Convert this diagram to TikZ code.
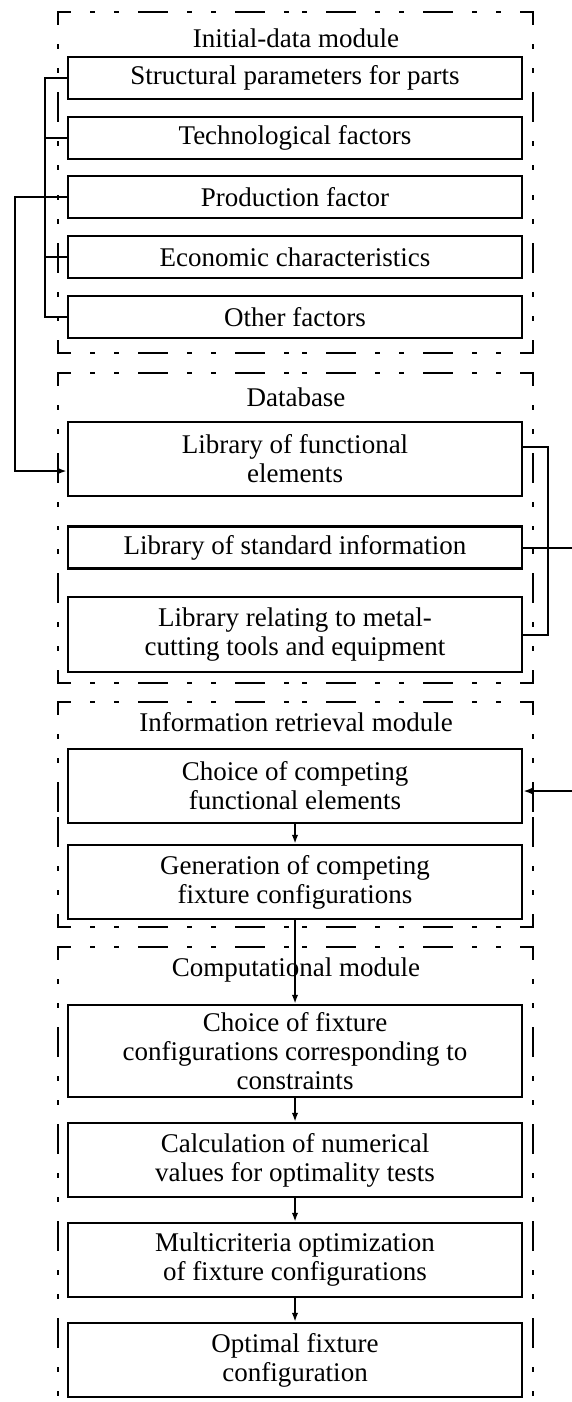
\documentclass[tikz,border=0pt]{standalone}
\usepackage{fontspec}
\setmainfont{Liberation Serif}
\usetikzlibrary{arrows.meta,calc}
\begin{document}
\begin{tikzpicture}[x=1pt,y=-1pt,
  box/.style={draw,line width=2.5pt,minimum width=454pt,inner sep=0pt,align=center,font=\fontsize{27}{29}\selectfont},
  ttl/.style={font=\fontsize{27}{29}\selectfont,inner sep=0pt},
  frame/.style={line width=2.2pt,line cap=rect,dash pattern=on 28pt off 21pt on 3pt off 21pt on 3pt off 21pt,dash phase=16pt},
  conn/.style={line width=2pt},
  arr/.style={conn,-{Latex[length=9pt,width=6.5pt]}}]
\useasboundingbox (0,0) rectangle (572,1402);
% frames: each side drawn from its corners towards the middle
\foreach \t/\b in {12/353,373/683,702/927}{
  \pgfmathsetmacro{\m}{(\t+\b)/2}
  \draw[frame] (58,\t) -- (58,\m);
  \draw[frame] (58,\t) -- (295.5,\t);
  \draw[frame] (533,\t) -- (533,\m);
  \draw[frame] (533,\t) -- (295.5,\t);
  \draw[frame] (58,\b) -- (58,\m);
  \draw[frame] (58,\b) -- (295.5,\b);
  \draw[frame] (533,\b) -- (533,\m);
  \draw[frame] (533,\b) -- (295.5,\b);
}
\draw[frame] (58,947) -- (58,1402);
\draw[frame] (58,947) -- (295.5,947);
\draw[frame] (533,947) -- (533,1402);
\draw[frame] (533,947) -- (295.5,947);
% titles
\node[ttl] (t1) at (296,38) {Initial-data module};
\node[ttl] (t2) at (296,397) {Database};
\node[ttl] (t3) at (296,722) {Information retrieval module};
\node[ttl] (t4) at (296,970) {Computational module};
% initial data boxes
\node[box,minimum height=42pt] (b1) at (295,78) {Structural parameters for parts};
\node[box,minimum height=42pt] (b2) at (295,138) {Technological factors};
\node[box,minimum height=42pt] (b3) at (295,197) {Production factor};
\node[box,minimum height=42pt] (b4) at (295,257) {Economic characteristics};
\node[box,minimum height=42pt] (b5) at (295,317) {Other factors};
% database boxes
\node[box,minimum height=74pt] (lf) at (295,459) {Library of functional\\elements};
\node[box,minimum height=42pt] (ls) at (295,547.5) {Library of standard information};
\node[box,minimum height=75pt] (lr) at (295,634.5) {Library relating to metal-\\cutting tools and equipment};
% retrieval
\node[box,minimum height=74pt] (ch) at (295,786) {Choice of competing\\functional elements};
\node[box,minimum height=74pt] (gen) at (295,882) {Generation of competing\\fixture configurations};
% computational
\node[box,minimum height=92pt] (cf) at (295,1051) {Choice of fixture\\configurations corresponding to\\constraints};
\node[box,minimum height=74pt] (calc) at (295,1160) {Calculation of numerical\\values for optimality tests};
\node[box,minimum height=74pt] (mc) at (295,1260) {Multicriteria optimization\\of fixture configurations};
\node[box,minimum height=74pt] (opt) at (295,1360) {Optimal fixture\\configuration};
% left connectors
\coordinate (busx) at (45,0);
\coordinate (lx) at (15,0);
\draw[conn] (b1.west) -| (busx |- b5.west) -- (b5.west);
\draw[conn] (b2.west) -- (busx |- b2.west);
\draw[conn] (b4.west) -- (busx |- b4.west);
\coordinate (lfin) at ($(lf.west)+(0,12)$);
\draw[arr] (b3.west) -| (lx |- lfin) -- (lfin);
% right connectors
\coordinate (rx) at (548,0);
\coordinate (ex) at (572,0);
\coordinate (lfout) at ($(lf.east)+(0,-12)$);
\draw[conn] (lfout) -| (rx |- lr.east) -- (lr.east);
\draw[conn] (ls.east) -- (ex |- ls.east);
\coordinate (chin) at ($(ch.east)+(0,5)$);
\draw[arr] (ex |- chin) -- (chin);
% vertical flow
\draw[arr] (ch.south) -- (gen.north);
\draw[arr] (gen.south) -- (cf.north);
\draw[arr] (cf.south) -- (calc.north);
\draw[arr] (calc.south) -- (mc.north);
\draw[arr] (mc.south) -- (opt.north);
\end{tikzpicture}
\end{document}
